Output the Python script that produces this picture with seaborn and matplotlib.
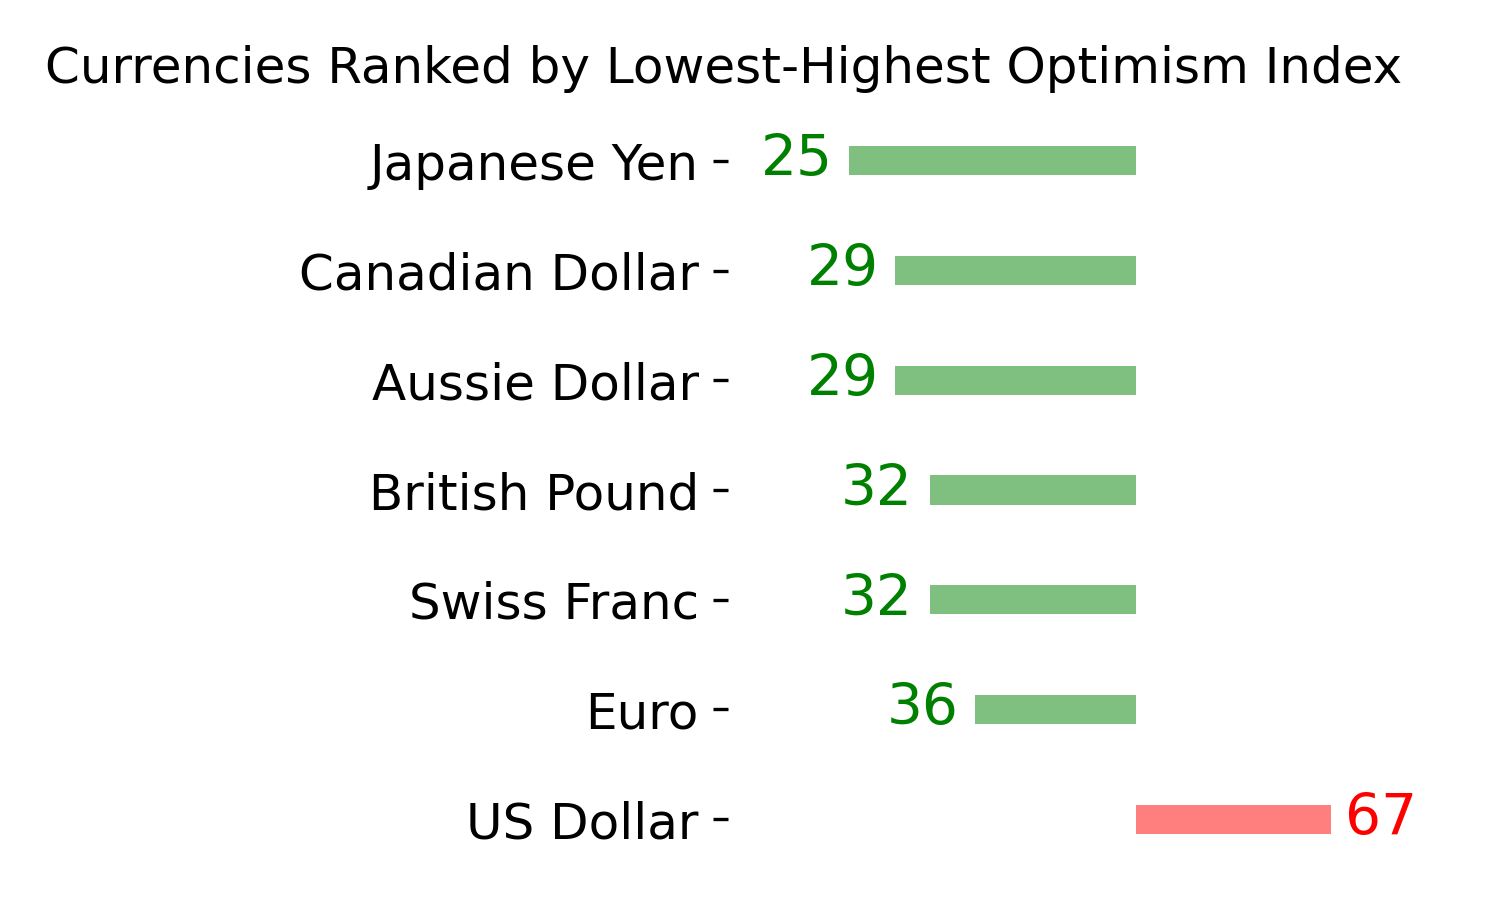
import matplotlib
matplotlib.use("Agg")
import matplotlib.pyplot as plt
import seaborn as sns
import pandas as pd

currencies = ["Japanese Yen", "Canadian Dollar", "Aussie Dollar", "British Pound",
              "Swiss Franc", "Euro", "US Dollar"]
values = [25, 29, 29, 32, 32, 36, 67]
center = 50

sns.set_style("white")
plt.rcParams["font.family"] = ["DejaVu Sans"]
plt.rcParams["text.color"] = "black"
plt.rcParams["ytick.color"] = "black"
plt.rcParams["ytick.labelcolor"] = "black"

df = pd.DataFrame({"currency": currencies, "value": values})
df["diff"] = df["value"] - center
df["color"] = ["red" if d > 0 else "green" for d in df["diff"]]

fig = plt.figure(figsize=(5, 3), dpi=300)
ax = fig.add_axes([728 / 1500, 26 / 900, (1420 - 728) / 1500, (874 - 106) / 900])

sns.barplot(data=df, y="currency", x="diff", hue="currency",
            palette=dict(zip(df["currency"], df["color"])),
            orient="h", width=0.266, alpha=0.5, legend=False, ax=ax,
            saturation=1, linewidth=0)

for i, (v, d) in enumerate(zip(df["value"], df["diff"])):
    if d < 0:
        ax.annotate(str(v), xy=(d, i), xytext=(-4.0, 0), textcoords="offset points",
                    ha="right", va="center", color="green", fontsize=13.6)
    else:
        ax.annotate(str(v), xy=(d, i), xytext=(3.4, 0), textcoords="offset points",
                    ha="left", va="center", color="red", fontsize=13.6)

ax.set_xlim(-35.6, 24.8)
ax.set_ylim(6.5, -0.5)
ax.set_xticks([])
ax.set_xlabel("")
ax.set_ylabel("")
ax.tick_params(axis="y", labelsize=12, left=True, length=3.5, width=0.8, pad=3.5,
               color="black", labelcolor="black")
for s in ax.spines.values():
    s.set_visible(False)

fig.text(45 / 1500, 1 - 83 / 900, "Currencies Ranked by Lowest-Highest Optimism Index",
         ha="left", va="baseline", fontsize=12, color="black")

fig.savefig("out.png", dpi=300)
